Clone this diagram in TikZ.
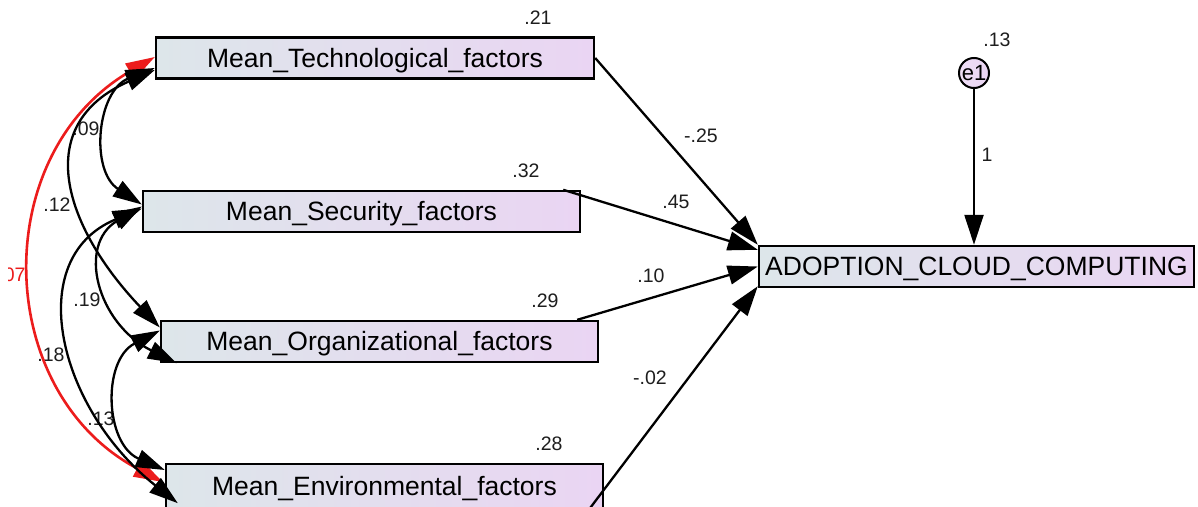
\documentclass[tikz,border=0pt]{standalone}
\usepackage{fontspec}
\setmainfont{Liberation Sans}
\usetikzlibrary{arrows.meta,calc}

\definecolor{boxleft}{RGB}{221,230,234}
\definecolor{boxright}{RGB}{234,213,243}
\definecolor{covred}{RGB}{236,28,28}
\definecolor{lbl}{RGB}{30,30,30}

\tikzset{
  var/.style={draw=black, line width=2.4pt, left color=boxleft, right color=boxright,
    minimum height=41pt, inner sep=0pt, text height=19pt, text depth=1pt,
    font=\fontsize{26.5}{30}\selectfont},
  errvar/.style={circle, draw=black, line width=2pt, left color=boxright!80!white, right color=boxright,
    minimum size=30pt, inner sep=0pt, font=\fontsize{22}{24}\selectfont},
  est/.style={text=lbl, inner sep=0pt, font=\fontsize{19.5}{22}\selectfont},
  regr/.style={line width=2.3pt, -{Triangle[length=30pt,width=19pt]}},
  cov/.style={line width=2.3pt, {Triangle[length=29pt,width=18pt]}-{Triangle[length=29pt,width=18pt]}}
}

\begin{document}
\begin{tikzpicture}[x=1pt,y=-1pt]
\useasboundingbox (0,0) rectangle (1198,506);
\fill[white] (0,0) rectangle (1198,506);
\clip (0,0) rectangle (1198,506);

% observed variables
\node[var, minimum width=438pt] (tech) at (375,58) {Mean\_Technological\_factors};
\node[var, minimum width=437pt] (sec) at (361.5,211.5) {Mean\_Security\_factors};
\node[var, minimum width=437pt] (org) at (379.5,341.5) {Mean\_Organizational\_factors};
\node[var, minimum width=437pt, minimum height=44pt] (env) at (384.5,486) {Mean\_Environmental\_factors};
\node[var, minimum width=435pt] (adopt) at (976.5,266.5) {ADOPTION\_CLOUD\_COMPUTING};

% error term
\node[errvar] (e1) at (974,73) {e1};

% covariance labels
\node[est] (c09) at (86,129) {.09};
\node[est] (c12) at (57,205) {.12};
\node[est] (c19) at (87,300) {.19};
\node[est] (c18) at (51,355) {.18};
\node[est] (c13) at (101,419) {.13};
\begin{scope}
  \clip (8,0) rectangle (60,506);
  \node[est, text=covred] (c07) at (12,275) {.07};
\end{scope}

% covariances
\draw[cov, covred, line width=2.6pt] ($(tech.west)+(0,-1)$) .. controls +(-167,97) and +(-170,-90) .. ($(env.west)+(-2,-4)$);
\draw[cov] ($(tech.west)+(0,10)$) .. controls +(-58,23) and +(-52,-34) .. ($(sec.west)+(0,-7)$);
\draw[cov] ($(tech.west)+(0,12)$) .. controls +(-125,55) and +(-95,-100) .. ($(org.west)+(0,-14)$);
\draw[cov] ($(sec.west)+(0,-5)$) .. controls +(-65,38) and +(-80,-40) .. ($(org.south west)+(17,0)$);
\draw[cov] ($(sec.west)+(0,-3)$) .. controls +(-120,50) and +(-120,-95) .. ($(env.south west)+(13,-6)$);
\draw[cov] ($(org.west)+(0,-11)$) .. controls +(-58,30) and +(-60,-26) .. ($(env.west)+(0,-16)$);

% regression paths
\draw[regr] (tech.east) -- (adopt.north west);
\draw[regr] ($(sec.north east)+(-18,0)$) -- ($(adopt.north west)+(0,5)$);
\draw[regr] ($(org.north east)+(-22,0)$) -- (adopt.west);
\draw[regr] ($(env.south east)+(-15,0)$) -- ($(adopt.south west)+(0,-2)$);
\draw[regr] (e1) -- (e1 |- adopt.north);

% squared multiple correlations
\node[est] (r21) at (538,18) {.21};
\node[est] (r32) at (526,171) {.32};
\node[est] (r29) at (545,301) {.29};
\node[est] (r28) at (549,444) {.28};
\node[est] (r13) at (997,40) {.13};

% regression weights
\node[est] (wt) at (701,136) {-.25};
\node[est] (ws) at (676,202) {.45};
\node[est] (wo) at (651,276) {.10};
\node[est] (we) at (650,378) {-.02};
\node[est] (w1) at (987,155) {1};
\end{tikzpicture}
\end{document}
